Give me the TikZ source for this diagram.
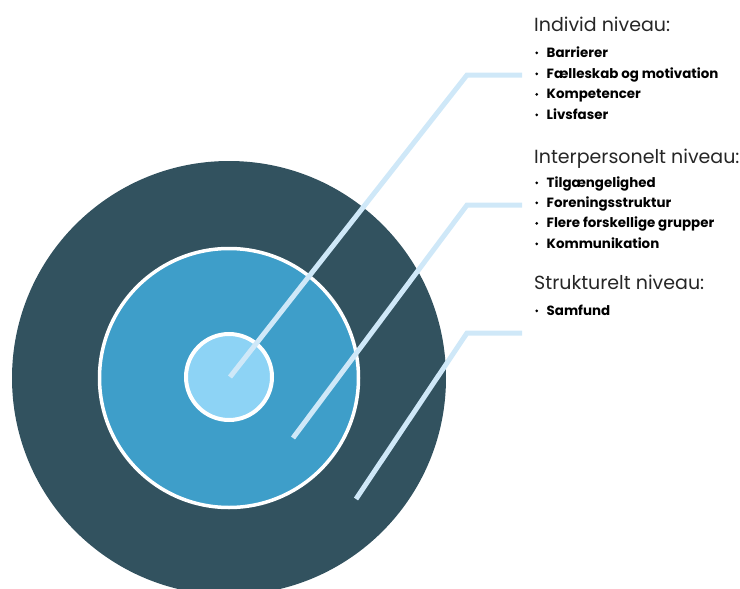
\documentclass[tikz,border=0pt]{standalone}
\usepackage{fontspec}
\setmainfont{Poppins}
\definecolor{darkring}{RGB}{50,82,95}
\definecolor{midring}{RGB}{62,158,201}
\definecolor{core}{RGB}{141,211,245}
\definecolor{leader}{RGB}{207,232,248}
\tikzset{
  ring/.style={circle, inner sep=0pt, outer sep=0pt},
  leaderline/.style={draw=leader, line width=5pt},
  heading/.style={anchor=base west, inner sep=0pt, font=\fontsize{19}{22}\selectfont, text=black!85},
  item/.style={anchor=base west, inner sep=0pt, font=\fontsize{13.4}{15}\selectfont\bfseries, text=black},
}
\newcommand{\bulitem}[1]{\makebox[12.5pt][l]{\hspace{1pt}\raisebox{2.7pt}{\tikz\fill (0,0) circle (1.5pt);}}#1}
\begin{document}
\begin{tikzpicture}[x=1pt,y=-1pt]
\useasboundingbox (0,0) rectangle (740,589);
\begin{scope}
\clip (0,0) rectangle (740,589);
\node[ring, fill=darkring, minimum size=434pt] (outer) at (229,378) {};
\node[ring, fill=midring, draw=white, line width=3.5pt, minimum size=259pt] (mid) at (229,378) {};
\node[ring, fill=core, draw=white, line width=4pt, minimum size=86pt] (inner) at (229,377) {};
\end{scope}
% leader lines
\coordinate (s1) at (230,377); \coordinate (k1) at (467,75); \coordinate (e1) at (522,75);
\coordinate (s2) at (293,438); \coordinate (k2) at (467,205); \coordinate (e2) at (522,205);
\coordinate (s3) at (356,499); \coordinate (k3) at (467,333); \coordinate (e3) at (522,333);
\draw[leaderline] (s1) -- (k1) -- (e1);
\draw[leaderline] (s2) -- (k2) -- (e2);
\draw[leaderline] (s3) -- (k3) -- (e3);
% texts
\node[heading] (h1) at (534,31) {Individ niveau:};
\node[item] (i11) at (534,57) {\bulitem{Barrierer}};
\node[item] (i12) at (534,78) {\bulitem{Fælleskab og motivation}};
\node[item] (i13) at (534,98.5) {\bulitem{Kompetencer}};
\node[item] (i14) at (534,119) {\bulitem{Livsfaser}};
\node[heading] (h2) at (534,163) {Interpersonelt niveau:};
\node[item] (i21) at (534,187) {\bulitem{Tilgængelighed}};
\node[item] (i22) at (534,207) {\bulitem{Foreningsstruktur}};
\node[item] (i23) at (534,227.5) {\bulitem{Flere forskellige grupper}};
\node[item] (i24) at (534,248) {\bulitem{Kommunikation}};
\node[heading] (h3) at (534,289) {Strukturelt niveau:};
\node[item] (i31) at (534,315) {\bulitem{Samfund}};
\end{tikzpicture}
\end{document}
